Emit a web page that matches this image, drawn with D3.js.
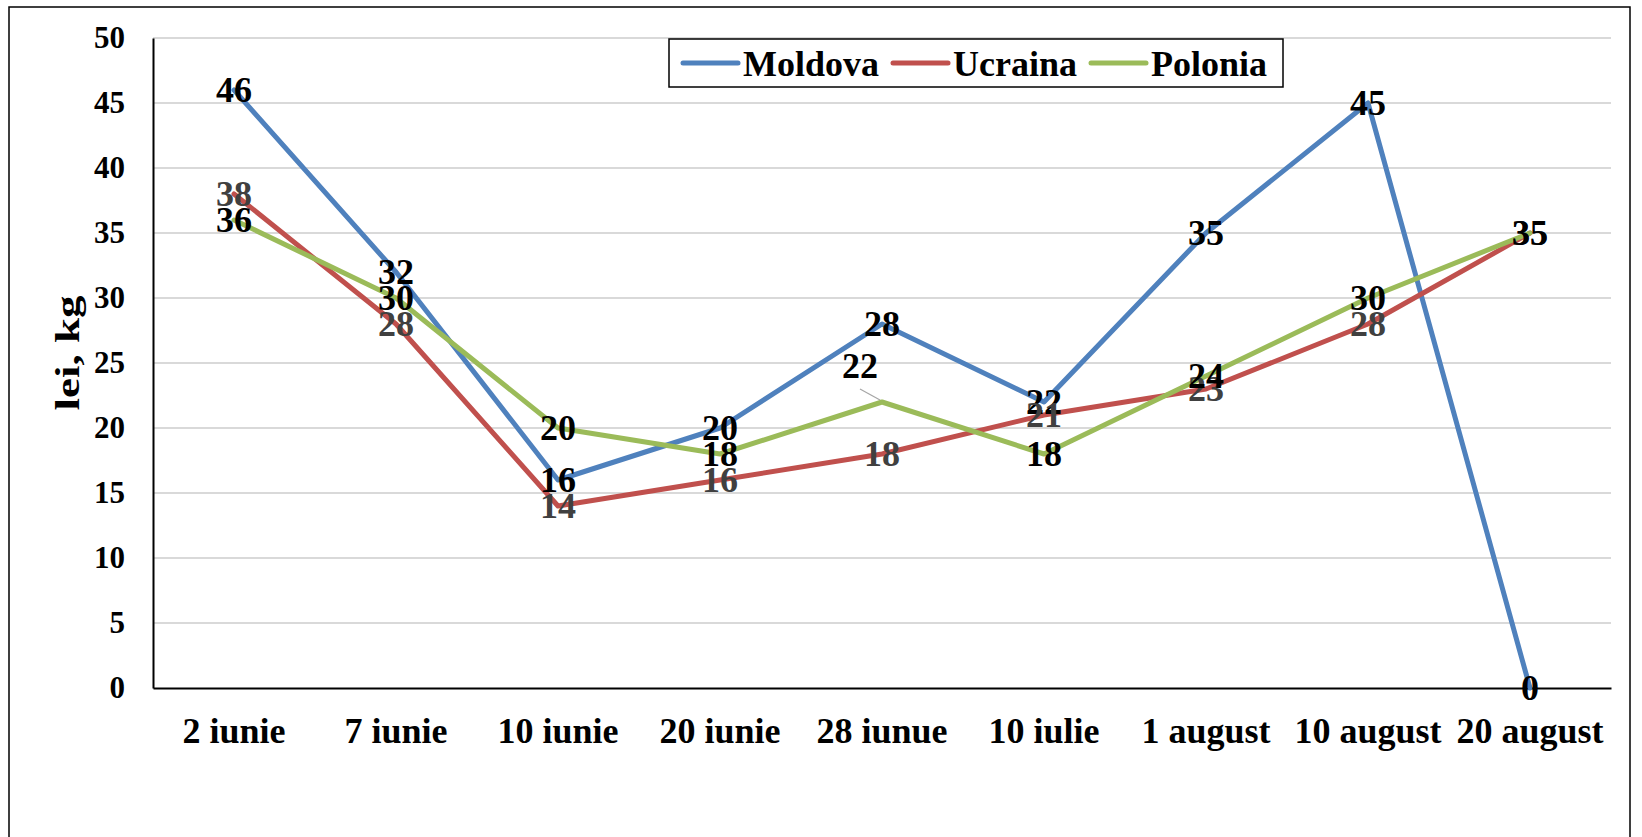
<!DOCTYPE html>
<html>
<head>
<meta charset="utf-8">
<script src="https://cdn.jsdelivr.net/npm/d3@7"></script>
<style>
  html, body { margin: 0; padding: 0; background: #fff; }
  svg { display: block; font-family: "Liberation Serif", "Times New Roman", serif; font-weight: bold; }
</style>
</head>
<body>
<svg id="chart" width="1642" height="837"></svg>
<script>
// data
const dates = ["2 iunie", "7 iunie", "10 iunie", "20 iunie", "28 iunue", "10 iulie", "1 august", "10 august", "20 august"];
const moldova = [46, 32, 16, 20, 28, 22, 35, 45, 0];
const ucraina = [38, 28, 14, 16, 18, 21, 23, 28, 35];
const polonia = [36, 30, 20, 18, 22, 18, 24, 30, 35];
const yTicks = [0, 5, 10, 15, 20, 25, 30, 35, 40, 45, 50];

const series = [
  { name: "Moldova", values: moldova, color: "#4f81bd", labelColor: "#000" },
  { name: "Ucraina", values: ucraina, color: "#c0504d", labelColor: "#404040" },
  { name: "Polonia", values: polonia, color: "#9bbb59", labelColor: "#000" }
];

const svg = d3.select("#chart");
const plotL = 153, plotR = 1611, plotT = 38, plotB = 688;

const x = d3.scaleBand().domain(dates).range([plotL, plotR]);
const cx = d => x(d) + x.bandwidth() / 2;
const y = d3.scaleLinear().domain([0, 50]).range([plotB, plotT]);

// outer frame
svg.append("rect")
  .attr("x", 9).attr("y", 7).attr("width", 1621).attr("height", 840)
  .attr("fill", "none").attr("stroke", "#000").attr("stroke-width", 1.5);

// gridlines
svg.append("g").selectAll("line")
  .data(yTicks.filter(t => t > 0))
  .join("line")
  .attr("x1", plotL).attr("x2", plotR)
  .attr("y1", d => y(d)).attr("y2", d => y(d))
  .attr("stroke", "#d9d9d9").attr("stroke-width", 2);

// y axis
const yAxis = svg.append("g")
  .attr("transform", `translate(${plotL},0)`)
  .call(d3.axisLeft(y).tickValues(yTicks).tickSize(0).tickPadding(28));
yAxis.select(".domain").attr("stroke", "#000").attr("stroke-width", 2);
yAxis.selectAll("text")
  .attr("font-family", "Liberation Serif").attr("font-weight", "bold")
  .attr("font-size", 31).attr("fill", "#000");

// x axis
const xAxis = svg.append("g")
  .attr("transform", `translate(0,${plotB})`)
  .call(d3.axisBottom(x).tickSize(0));
xAxis.select(".domain").attr("stroke", "#000").attr("stroke-width", 2);
xAxis.selectAll("text")
  .attr("font-family", "Liberation Serif").attr("font-weight", "bold")
  .attr("font-size", 36).attr("fill", "#000")
  .attr("dy", null).attr("y", 55);

// y axis title
svg.append("text")
  .attr("transform", "translate(79,353) rotate(-90)")
  .attr("text-anchor", "middle")
  .attr("font-size", 34)
  .attr("textLength", 115).attr("lengthAdjust", "spacingAndGlyphs")
  .text("lei, kg");

// lines
const line = d3.line().x((d, i) => cx(dates[i])).y(d => y(d));
svg.append("g").selectAll("path")
  .data(series)
  .join("path")
  .attr("d", s => line(s.values))
  .attr("fill", "none")
  .attr("stroke", s => s.color)
  .attr("stroke-width", 5)
  .attr("stroke-linejoin", "round")
  .attr("stroke-linecap", "round");

// leader line for the moved Polonia label at "28 iunue"
const moved = { series: "Polonia", index: 4, dx: -22, dy: -36 };
{
  const px = cx(dates[moved.index]), py = y(polonia[moved.index]);
  svg.append("line")
    .attr("x1", px + moved.dx).attr("y1", py - 13)
    .attr("x2", px - 2).attr("y2", py - 2)
    .attr("stroke", "#a6a6a6").attr("stroke-width", 1.2);
}

// data labels
series.forEach(s => {
  svg.append("g").selectAll("text")
    .data(s.values)
    .join("text")
    .attr("x", (d, i) => cx(dates[i]) + (s.name === moved.series && i === moved.index ? moved.dx : 0))
    .attr("y", (d, i) => y(d) + 12 + (s.name === moved.series && i === moved.index ? moved.dy : 0))
    .attr("text-anchor", "middle")
    .attr("font-size", 36)
    .attr("fill", s.labelColor)
    .text(d => d);
});

// legend
const legend = svg.append("g");
legend.append("rect")
  .attr("x", 669).attr("y", 39).attr("width", 614).attr("height", 48)
  .attr("fill", "#fff").attr("stroke", "#000").attr("stroke-width", 1.5);
let lx = 683;
series.forEach(s => {
  legend.append("line")
    .attr("x1", lx).attr("x2", lx + 55).attr("y1", 63).attr("y2", 63)
    .attr("stroke", s.color).attr("stroke-width", 5).attr("stroke-linecap", "round");
  const t = legend.append("text")
    .attr("x", lx + 60).attr("y", 76)
    .attr("font-size", 36)
    .text(s.name);
  lx += 60 + t.node().getComputedTextLength() + 14;
});
</script>
</body>
</html>
